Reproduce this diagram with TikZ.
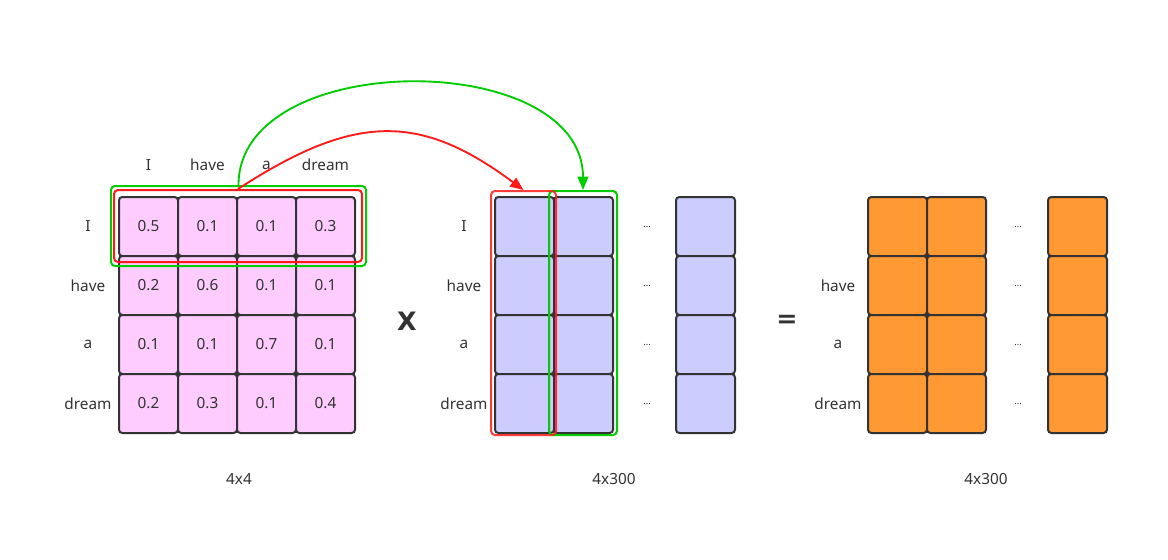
\documentclass[tikz,border=0pt]{standalone}
\usepackage{fontspec}
\setmainfont{Noto Sans}
\newfontfamily\opfont{DejaVu Sans}
\usetikzlibrary{arrows.meta}
\definecolor{txt}{HTML}{333333}
\definecolor{edgec}{HTML}{333333}
\definecolor{pinkc}{HTML}{FFCCFF}
\definecolor{bluec}{HTML}{CCCCFF}
\definecolor{orangec}{HTML}{FF9933}
\definecolor{redc}{HTML}{FF1A1A}
\definecolor{greenc}{HTML}{00CC00}
\tikzset{
  cell/.style={draw=edgec, line width=1.5pt, rounded corners=2.5pt,
    minimum width=44.25pt, minimum height=44.25pt, inner sep=0pt,
    text=txt, font=\fontsize{11.5}{13}\selectfont},
  lbl/.style={text=txt, font=\fontsize{11.5}{13}\selectfont, inner sep=0pt},
  dotl/.style={text=txt, font=\fontsize{7}{8}\selectfont, inner sep=0pt},
  opl/.style={text=txt, font=\opfont\bfseries\fontsize{19}{21}\selectfont, inner sep=0pt},
  selbox/.style={line width=1.5pt, rounded corners=3pt, inner sep=0pt, fill=none},
  link/.style={line width=1.4pt, -{Triangle[length=10pt,width=8pt]}}
}
\begin{document}
\begin{tikzpicture}[x=0.75pt,y=-0.75pt]
\useasboundingbox (0,0) rectangle (1168,560);
\fill[white] (0,0) rectangle (1168,560);

% left matrix
\foreach \v [count=\i] in {{0.5,0.1,0.1,0.3},{0.2,0.6,0.1,0.1},{0.1,0.1,0.7,0.1},{0.2,0.3,0.1,0.4}}{
  \foreach \w [count=\j] in \v {
    \pgfmathsetmacro{\cx}{148.5+59*(\j-1)}
    \pgfmathsetmacro{\cy}{226.5+59*(\i-1)}
    \node[cell, fill=pinkc] (L-\i-\j) at (\cx,\cy) {\w};
  }
}
% column labels
\foreach \t [count=\j] in {I,have,a,dream}{
  \pgfmathsetmacro{\cx}{148.5+59*(\j-1)}
  \node[lbl] (CL-\j) at (\cx,165) {\t};
}
% row labels left and middle
\foreach \t [count=\i] in {I,have,a,dream}{
  \pgfmathsetmacro{\cy}{226.5+59*(\i-1)}
  \node[lbl] (RL-\i) at (88,\cy) {\t};
  \node[lbl] (RM-\i) at (464,\cy) {\t};
}
% right row labels (no I)
\foreach \t [count=\i from 2] in {have,a,dream}{
  \pgfmathsetmacro{\cy}{226.5+59*(\i-1)}
  \node[lbl] (RR-\i) at (838,\cy) {\t};
}

% middle and right matrices
\foreach \i in {1,...,4}{
  \pgfmathsetmacro{\cy}{226.5+59*(\i-1)}
  \node[cell, fill=bluec] (M-\i-1) at (524.5,\cy) {};
  \node[cell, fill=bluec] (M-\i-2) at (583.5,\cy) {};
  \node[cell, fill=bluec] (M-\i-3) at (705.5,\cy) {};
  \node[dotl] (MD-\i) at (647,\cy) {...};
  \node[cell, fill=orangec] (R-\i-1) at (897.5,\cy) {};
  \node[cell, fill=orangec] (R-\i-2) at (956.5,\cy) {};
  \node[cell, fill=orangec] (R-\i-3) at (1077.5,\cy) {};
  \node[dotl] (RD-\i) at (1018,\cy) {...};
}

% operators and sizes
\node[opl] (times) at (407,321) {X};
\node[opl] (equals) at (787,321.5) {=};
\node[lbl] (s1) at (239,479) {4x4};
\node[lbl] (s2) at (614,479) {4x300};
\node[lbl] (s3) at (986,479) {4x300};

% selection boxes
\node[selbox, draw=greenc, minimum width=191.25pt, minimum height=60pt] (gL) at (238.5,226) {};
\node[selbox, draw=redc, minimum width=186pt, minimum height=54pt] (rL) at (238,226) {};
\node[selbox, draw=greenc, minimum width=51pt, minimum height=183pt] (gM) at (583,313) {};
\node[selbox, draw=redc, draw opacity=0.85, minimum width=48.75pt, minimum height=183pt] (rM) at (523.5,313) {};

% arrows
\draw[link, greenc] (gL.north) .. controls (238.5,48) and (583,48) .. (gM.north);
\draw[link, redc] (rL.north) .. controls (355,113) and (420,113) .. (rM.north);
\end{tikzpicture}
\end{document}
